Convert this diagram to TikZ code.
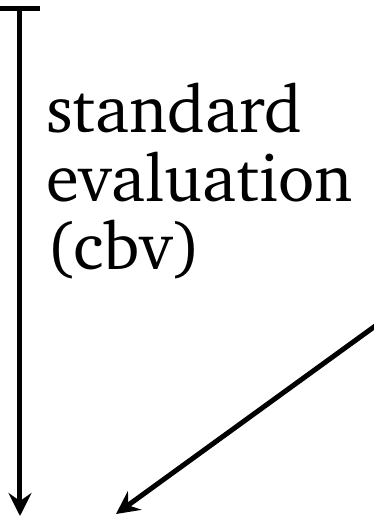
\documentclass[tikz,border=0pt]{standalone}
\usepackage[T1]{fontenc}
\usepackage{charter}
\usetikzlibrary{arrows.meta}
\begin{document}
\begin{tikzpicture}[x=0.2pt, y=-0.2pt,
    evalarrow/.style={line width=1pt, -{Stealth[length=4.6pt, width=4.6pt, inset=1.6pt]}}]
        % Fix the page size
        \useasboundingbox (0,0) rectangle (374,525);

        % Draw arrow ends
        \coordinate (stdtop) at (20,6);
        \coordinate (stdbot) at (20,516);
        \coordinate (diagtop) at (378,324);
        \coordinate (diagbot) at (116,514);

        % Draw the label
        \node[anchor=north west, inner sep=0pt, align=left,
              font=\fontsize{13.4}{13.7}\selectfont] (stdlabel) at (45,82)
              {standard\\evaluation\\(cbv)};

        % Draw the arrows
        \draw[evalarrow, {Bar[width=8pt]}-{Stealth[length=4.6pt, width=4.6pt, inset=1.6pt]}] (stdtop) -- (stdbot);
        \draw[evalarrow] (diagtop) -- (diagbot);
\end{tikzpicture}
\end{document}
